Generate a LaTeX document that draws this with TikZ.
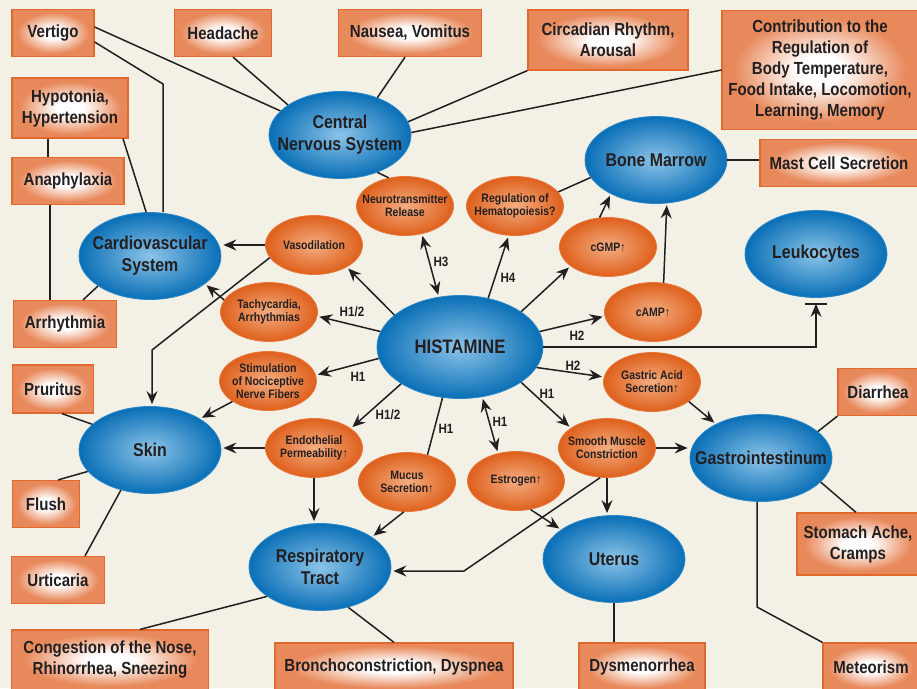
\documentclass[tikz,border=0pt]{standalone}
\usepackage{fontspec}
\setmainfont{Liberation Sans}[FakeStretch=0.86]
\usetikzlibrary{shapes.geometric,arrows.meta}

\definecolor{bgcream}{HTML}{F3F0E6}
\definecolor{inkdark}{HTML}{231F20}
\definecolor{boxorange}{HTML}{E8895B}
\definecolor{boxedge}{HTML}{E2692E}
\definecolor{blueIn}{HTML}{8CC4E8}
\definecolor{blueOut}{HTML}{0A6FB6}
\definecolor{blueEdge}{HTML}{2A88C8}
\definecolor{orIn}{HTML}{F4AD82}
\definecolor{orOut}{HTML}{DE601C}
\definecolor{orEdge}{HTML}{E8773C}
\pgfdeclareradialshading{boxglow}{\pgfpoint{0bp}{0bp}}{color(0bp)=(white); color(6bp)=(white); color(22bp)=(boxorange); color(50bp)=(boxorange)}

\begin{document}
\begin{tikzpicture}[x=1pt,y=-1pt,
    organ/.style={ellipse,inner xsep=-16pt,inner ysep=0pt,minimum width=142pt,minimum height=87pt,
      inner color=blueIn,outer color=blueOut,draw=blueEdge,line width=0.8pt,
      align=center,font=\fontsize{18.5}{22}\selectfont\bfseries,text=inkdark},
    effect/.style={ellipse,inner xsep=-12pt,inner ysep=0pt,minimum width=97pt,minimum height=59pt,
      inner color=orIn,outer color=orOut,draw=orEdge,line width=0.8pt,
      align=center,font=\fontsize{12.2}{12.8}\selectfont\bfseries,text=inkdark},
    symptom/.style={rectangle,inner sep=0pt,shade,shading=boxglow,draw=boxedge,line width=1.2pt,
      align=center,font=\fontsize{17.5}{21}\selectfont\bfseries,text=inkdark},
    conn/.style={draw=inkdark,line width=1.5pt},
    arr/.style={conn,-{Stealth[length=13pt,width=11pt,inset=4.5pt]},shorten >=2pt},
    darr/.style={conn,{Stealth[length=13pt,width=11pt,inset=4.5pt]}-{Stealth[length=13pt,width=11pt,inset=4.5pt]},shorten >=2pt,shorten <=2pt},
    rlabel/.style={font=\fontsize{13.5}{14}\selectfont\bfseries,text=inkdark,inner sep=0pt}]

  % Background and page size
  \useasboundingbox (0,0) rectangle (917,688);
  \fill[bgcream] (0,0) rectangle (917,688);

  % Draw the organs
  \node[organ] (cns) at (340,135) {Central\\Nervous System};
  \node[organ] (marrow) at (656,160) {Bone Marrow};
  \node[organ] (cardio) at (150,256) {Cardiovascular\\System};
  \node[organ] (leuko) at (816,254) {Leukocytes};
  \node[organ,minimum width=166pt,minimum height=103pt,font=\fontsize{19.5}{22}\selectfont\bfseries] (hist) at (460,347) {HISTAMINE};
  \node[organ] (skin) at (150,450) {Skin};
  \node[organ] (resp) at (320,567) {Respiratory\\Tract};
  \node[organ] (uterus) at (614,559) {Uterus};
  \node[organ] (gastro) at (761,458) {Gastrointestinum};

  % Draw the effects
  \node[effect] (neuro) at (405,206) {Neurotransmitter\\Release};
  \node[effect] (hemato) at (515,206) {Regulation of\\Hematopoiesis?};
  \node[effect] (vaso) at (314,245) {Vasodilation};
  \node[effect] (cgmp) at (608,247) {cGMP↑};
  \node[effect] (tachy) at (269,312) {Tachycardia,\\Arrhythmias};
  \node[effect] (camp) at (653,312) {cAMP↑};
  \node[effect] (stim) at (268,381) {Stimulation\\of Nociceptive\\Nerve Fibers};
  \node[effect] (gastric) at (652,382) {Gastric Acid\\Secretion↑};
  \node[effect] (endo) at (314,448) {Endothelial\\Permeability↑};
  \node[effect] (mucus) at (407,482) {Mucus\\Secretion↑};
  \node[effect] (estro) at (516,481) {Estrogen↑};
  \node[effect] (smooth) at (607,448) {Smooth Muscle\\Constriction};

  % Draw the symptom boxes
  \node[symptom,minimum width=82pt,minimum height=47pt] (vertigo) at (53,33) {Vertigo};
  \node[symptom,minimum width=97pt,minimum height=47pt] (headache) at (223,33) {Headache};
  \node[symptom,minimum width=143pt,minimum height=47pt] (nausea) at (410,33) {Nausea, Vomitus};
  \node[symptom,minimum width=160pt,minimum height=60pt] (circadian) at (608,40) {Circadian Rhythm,\\Arousal};
  \node[symptom,minimum width=196pt,minimum height=119pt] (contrib) at (820,70) {Contribution to the\\Regulation of\\Body Temperature,\\Food Intake, Locomotion,\\Learning, Memory};
  \node[symptom,minimum width=158pt,minimum height=47pt] (mast) at (839,163) {Mast Cell Secretion};
  \node[symptom,minimum width=116pt,minimum height=60pt] (hypo) at (70,108) {Hypotonia,\\Hypertension};
  \node[symptom,minimum width=112pt,minimum height=47pt] (anaph) at (68,181) {Anaphylaxia};
  \node[symptom,minimum width=103pt,minimum height=47pt] (arrhyth) at (65,324) {Arrhythmia};
  \node[symptom,minimum width=81pt,minimum height=48pt] (pruritus) at (53,389) {Pruritus};
  \node[symptom,minimum width=67pt,minimum height=47pt] (flush) at (46,504) {Flush};
  \node[symptom,minimum width=93pt,minimum height=47pt] (urtic) at (58,580) {Urticaria};
  \node[symptom,minimum width=197pt,minimum height=60pt] (congest) at (110,660) {Congestion of the Nose,\\Rhinorrhea, Sneezing};
  \node[symptom,minimum width=238pt,minimum height=48pt] (broncho) at (394,667) {Bronchoconstriction, Dyspnea};
  \node[symptom,minimum width=126pt,minimum height=48pt] (dysmen) at (642,667) {Dysmenorrhea};
  \node[symptom,minimum width=96pt,minimum height=48pt] (meteor) at (871,667) {Meteorism};
  \node[symptom,minimum width=80pt,minimum height=47pt] (diarrh) at (878,392) {Diarrhea};
  \node[symptom,minimum width=122pt,minimum height=62pt] (stomach) at (858,544) {Stomach Ache,\\Cramps};

  % Bend points
  \coordinate (vbend) at (163,84);
  \coordinate (vskin) at (152,350);
  \coordinate (sbend) at (464,571);
  \coordinate (gbend) at (757,607);

  % Draw the plain links to the symptoms
  \draw[conn] ([yshift=6pt]vertigo.east) -- (cns.158);
  \draw[conn] ([yshift=-9pt]vertigo.east) -- (vbend) -- (vbend |- cardio.north);
  \draw[conn] ([xshift=10pt]headache.south) -- (cns.150);
  \draw[conn] ([xshift=-5pt]nausea.south) -- (cns.45);
  \draw[conn] (circadian.south west) -- (cns.11);
  \draw[conn] (contrib.west) -- (cns.2);
  \draw[conn] ([xshift=-22pt]hypo.south) -- ([xshift=-20pt]anaph.north);
  \draw[conn] ([xshift=53pt]hypo.south) -- (cardio.95);
  \draw[conn] ([xshift=-18pt]anaph.south) -- ([xshift=-15pt]arrhyth.north);
  \draw[conn] (cardio.210) -- ([xshift=18pt]arrhyth.north);
  \draw[conn] (cns.-45) -- (neuro.120);
  \draw[conn] (marrow.195) -- (hemato.18);
  \draw[conn] (marrow.east) -- (marrow.east -| mast.west);
  \draw[conn] ([xshift=9pt]pruritus.south) -- (skin.156);
  \draw[conn] (skin.199) -- ([xshift=12pt]flush.north);
  \draw[conn] (skin.234) -- ([xshift=27pt]urtic.north);
  \draw[conn] (resp.209) -- ([xshift=30pt]congest.north);
  \draw[conn] (resp.305) -- (broncho.north);
  \draw[conn] (uterus.south) -- (uterus.south |- dysmen.north);
  \draw[conn] (gastro.25) -- (diarrh.south west);
  \draw[conn] (gastro.338) -- ([xshift=-2pt]stomach.north);
  \draw[conn] ([xshift=-4pt]gastro.south) -- (gbend) -- (meteor.north west);

  % Draw the arrows from histamine
  \draw[arr] (hist.154) -- (vaso.326);
  \draw[arr] (hist.169) -- (tachy.355);
  \draw[darr] (neuro.301) -- (hist.113);
  \draw[arr] (hist.60) -- (hemato.258);
  \draw[arr] (hist.30) -- (cgmp.207);
  \draw[arr] (hist.11) -- (camp.185);
  \draw[arr,shorten >=6pt] (hist.east) -| (leuko.south);
  \draw[conn] ([xshift=-11pt,yshift=-6pt]leuko.south) -- ([xshift=11pt,yshift=-6pt]leuko.south);
  \draw[arr] (hist.188) -- (stim.7);
  \draw[arr] (hist.212) -- (endo.28);
  \draw[conn] (hist.251) -- (mucus.53);
  \draw[darr] (hist.294) -- (estro.123);
  \draw[arr] (hist.330) -- (smooth.151);
  \draw[arr] (hist.345) -- (gastric.174);

  % Draw the arrows from the effects
  \draw[arr] (vaso.west) -- (vaso.west -| cardio.east);
  \draw[arr] (vaso.196) -- (vskin) -- (vskin |- skin.north);
  \draw[arr] (tachy.165) -- (cardio.333);
  \draw[arr] (cgmp.106) -- (marrow.217);
  \draw[arr] (camp.70) -- (marrow.284);
  \draw[arr] (stim.210) -- (skin.32);
  \draw[arr] (endo.west) -- (endo.west -| skin.east);
  \draw[arr] (endo.south) -- (endo.south |- resp.north);
  \draw[arr] (mucus.264) -- (resp.30);
  \draw[arr] (gastric.332) -- (gastro.143);
  \draw[arr] (smooth.east) -- (smooth.east -| gastro.west);
  \draw[arr] (smooth.south) -- (smooth.south |- uterus.north);
  \draw[arr] (estro.297) -- (uterus.151);
  \draw[arr] (smooth.257) -- (sbend) -- (sbend -| resp.east);

  % Receptor labels
  \node[rlabel] (r1) at (352,312) {H1/2};
  \node[rlabel] (r2) at (441,262) {H3};
  \node[rlabel] (r3) at (508,278) {H4};
  \node[rlabel] (r4) at (577,336) {H2};
  \node[rlabel] (r5) at (358,377) {H1};
  \node[rlabel] (r6) at (388,415) {H1/2};
  \node[rlabel] (r7) at (446,429) {H1};
  \node[rlabel] (r8) at (500,422) {H1};
  \node[rlabel] (r9) at (547,394) {H1};
  \node[rlabel] (r10) at (573,366) {H2};

\end{tikzpicture}
\end{document}
